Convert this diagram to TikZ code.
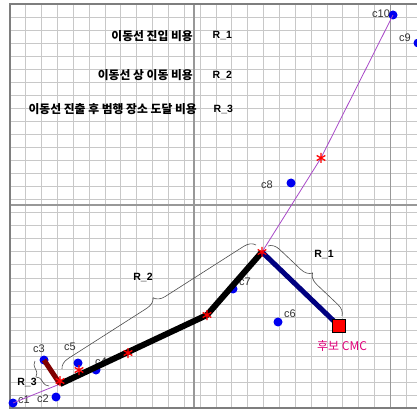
\documentclass[tikz,border=0pt]{standalone}
\usepackage{fontspec}
\setmainfont{Liberation Sans}
\newfontfamily\korfont{Noto Sans CJK KR}
\usetikzlibrary{decorations.pathreplacing,positioning}
\definecolor{finegray}{HTML}{C8C8C8}
\definecolor{coarsegray}{HTML}{989898}
\definecolor{framegray}{HTML}{7E7E7E}
\definecolor{siteblue}{HTML}{0000F0}
\definecolor{entrynavy}{HTML}{000080}
\definecolor{exitmaroon}{HTML}{800000}
\definecolor{linkviolet}{HTML}{A848C8}
\definecolor{cmcpink}{HTML}{E0007A}

\begin{document}
\begin{tikzpicture}[x=1pt,y=-1pt,
  finegrid/.style={draw=finegray,line width=1pt},
  coarsegrid/.style={draw=coarsegray,line width=1.4pt},
  mapframe/.style={draw=framegray,line width=1.6pt},
  site/.style={circle,fill=siteblue,inner sep=0pt,minimum size=9pt},
  sitelabel/.style={font=\fontsize{11}{12}\selectfont,text=black!80,inner sep=0pt},
  legend/.style={font=\korfont\bfseries\fontsize{11.8}{13}\selectfont,inner sep=0pt},
  costlabel/.style={font=\bfseries\fontsize{10.5}{12}\selectfont,inner sep=0pt},
  moveline/.style={draw=black,line width=6pt},
  entryline/.style={draw=entrynavy,line width=5pt},
  exitline/.style={draw=exitmaroon,line width=5pt},
  linkline/.style={draw=linkviolet,line width=0.8pt},
  costbrace/.style={draw=black!70,line width=0.6pt,decorate,decoration={brace,amplitude=#1}},
  cmcbox/.style={rectangle,draw=black,fill=red,line width=0.8pt,minimum size=13pt,inner sep=0pt},
  redstar/.pic={\draw[red,line width=1.3pt] (0,-5) -- (0,5) (-4.3,-2.5) -- (4.3,2.5) (-4.3,2.5) -- (4.3,-2.5);}
]
  \useasboundingbox (0,0) rectangle (417,411);
  \fill[white] (0,0) rectangle (417,411);
  \clip (0,0) rectangle (417,411);
  \foreach \gx in {1,...,26}
    \draw[finegrid] ({10+15.85*\gx},4) -- ({10+15.85*\gx},408);
  \foreach \gy in {1,...,30}
    \draw[finegrid] (10,{4+13.05*\gy}) -- (420,{4+13.05*\gy});
  \draw[coarsegrid] (194,4) -- (194,408);
  \draw[coarsegrid] (390.5,4) -- (390.5,408);
  \draw[coarsegrid] (10,205) -- (420,205);
  \draw[mapframe] (420,4) -- (10,4) -- (10,408) -- (420,408);

  \node[legend,anchor=east] (leg1) at (193,36) {이동선 진입 비용};
  \node[legend,anchor=east] (leg2) at (193,75) {이동선 상 이동 비용};
  \node[legend,anchor=east] (leg3) at (197,109) {이동선 진출 후 범행 장소 도달 비용};
  \node[costlabel,anchor=west] (legr1) at (212.5,36) {R\_1};
  \node[costlabel,anchor=west] (legr2) at (212.5,75) {R\_2};
  \node[costlabel,anchor=west] (legr3) at (213.5,109) {R\_3};

  \node[site] (c1) at (13,403) {};
  \node[site] (c2) at (56,397) {};
  \node[site] (c3) at (44,360) {};
  \node[site] (c4) at (96,370) {};
  \node[site] (c5) at (78,363) {};
  \node[site] (c6) at (278,322) {};
  \node[site] (c7) at (233,289) {};
  \node[site] (c8) at (291,183) {};
  \node[site] (c9) at (418,43) {};
  \node[site] (c10) at (393,15) {};
  \node[sitelabel] (c1lbl) at (24,400) {c1};
  \node[sitelabel] (c2lbl) at (43,399) {c2};
  \node[sitelabel] (c3lbl) at (39,349) {c3};
  \node[sitelabel] (c4lbl) at (101,362) {c4};
  \node[sitelabel] (c5lbl) at (70,347) {c5};
  \node[sitelabel] (c6lbl) at (290,314) {c6};
  \node[sitelabel] (c7lbl) at (245,282) {c7};
  \node[sitelabel] (c8lbl) at (267,185) {c8};
  \node[sitelabel] (c9lbl) at (405,38) {c9};
  \node[sitelabel] (c10lbl) at (381,14) {c10};

  \coordinate (j0) at (60,384);
  \coordinate (j1) at (207,315);
  \coordinate (apex) at (262,252);
  \coordinate (bend) at (321,158);
  \coordinate (cmcpos) at (339,326);

  \draw[linkline] (c1.center) -- (j0);
  \draw[linkline] (apex) -- (bend) -- (c10.center);
  \draw[moveline] (j0) -- (j1) -- (apex);
  \draw[exitline] (c3.center) -- (j0);
  \draw[entryline] (apex) -- (cmcpos);
  \node[cmcbox] (cmc) at (cmcpos) {};
  \node[font=\korfont\fontsize{12}{13}\selectfont,text=cmcpink,inner sep=0pt] (cmclbl) at (342,346) {후보 CMC};

  \pic at (60,381) {redstar};
  \pic at (79,370) {redstar};
  \pic at (128,353) {redstar};
  \pic at (207,315) {redstar};
  \pic at (262,252) {redstar};
  \pic at (321,158) {redstar};

  \draw[costbrace=11pt] (62,369) -- (256,245);
  \draw[costbrace=11pt] (268,246) -- (342,316);
  \draw[costbrace=7pt] (49,386) -- (35,361);
  \node[costlabel] (r1) at (324,255) {R\_1};
  \node[costlabel] (r2) at (143,277) {R\_2};
  \node[costlabel] (r3) at (27,382) {R\_3};
\end{tikzpicture}
\end{document}
